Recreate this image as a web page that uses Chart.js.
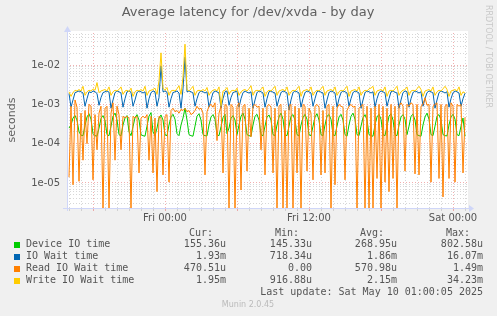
<!DOCTYPE html>
<html>
<head>
<meta charset="utf-8">
<title>Average latency for /dev/xvda - by day</title>
<script src="https://cdn.jsdelivr.net/npm/chart.js@4.4.1/dist/chart.umd.min.js"></script>
<style>
  html, body { margin: 0; padding: 0; background: #f0f0f0; }
  #wrap { width: 497px; height: 316px; }
</style>
</head>
<body>
<div id="wrap"><canvas id="chart" width="497" height="316"></canvas></div>
<script>
// 10 minute samples, hours relative to Fri 00:00
const startHour = -8;
const stepHours = 1 / 6;

// latencies, in milliseconds
const deviceIO = [
  0.25, 0.30, 0.45, 0.52, 0.40, 0.20, 0.165, 0.16, 0.29, 0.48,
  0.58, 0.42, 0.18, 0.16, 0.155, 0.25, 0.44, 0.52, 0.39, 0.17,
  0.16, 0.28, 0.50, 0.60, 0.41, 0.17, 0.158, 0.30, 0.45, 0.52,
  0.20, 0.16, 0.27, 0.46, 0.55, 0.40, 0.17, 0.16, 0.155, 0.28,
  0.50, 0.62, 0.20, 0.16, 0.25, 0.45, 0.54, 0.40, 0.17, 0.16,
  0.30, 0.48, 0.56, 0.42, 0.18, 0.16, 0.30, 0.45, 0.80, 0.40,
  0.17, 0.16, 0.155, 0.28, 0.50, 0.58, 0.40, 0.17, 0.16, 0.158,
  0.30, 0.48, 0.55, 0.42, 0.17, 0.16, 0.27, 0.46, 0.56, 0.18,
  0.25, 0.44, 0.52, 0.40, 0.17, 0.30, 0.50, 0.60, 0.42, 0.17,
  0.16, 0.155, 0.30, 0.50, 0.56, 0.40, 0.17, 0.16, 0.28, 0.48,
  0.54, 0.40, 0.17, 0.16, 0.30, 0.48, 0.60, 0.42, 0.17, 0.16,
  0.28, 0.50, 0.55, 0.40, 0.17, 0.158, 0.30, 0.46, 0.56, 0.42,
  0.17, 0.16, 0.28, 0.48, 0.58, 0.40, 0.17, 0.16, 0.30, 0.50,
  0.55, 0.42, 0.17, 0.16, 0.28, 0.48, 0.56, 0.40, 0.17, 0.155,
  0.30, 0.50, 0.60, 0.42, 0.17, 0.16, 0.28, 0.46, 0.55, 0.40,
  0.17, 0.16, 0.155, 0.30, 0.48, 0.56, 0.42, 0.17, 0.16, 0.28,
  0.50, 0.58, 0.40, 0.17, 0.16, 0.30, 0.48, 0.55, 0.42, 0.17,
  0.28, 0.50, 0.56, 0.40, 0.17, 0.16, 0.155, 0.30, 0.48, 0.60,
  0.42, 0.17, 0.16, 0.28, 0.50, 0.55, 0.40, 0.17, 0.16, 0.158,
  0.30, 0.48, 0.56, 0.42, 0.17, 0.16, 0.28, 0.45, 0.155
];

const ioWait = [
  1.9, 0.85, 1.3, 2.0, 2.1, 2.2, 2.1, 1.95, 0.9, 1.4,
  2.1, 2.0, 2.2, 2.1, 1.9, 0.95, 1.5, 2.0, 2.1, 2.2,
  2.05, 0.8, 1.3, 2.0, 2.2, 2.1, 1.95, 0.85, 1.4, 2.1,
  2.2, 2.05, 0.9, 1.3, 2.0, 2.2, 2.1, 1.95, 2.1, 0.8,
  1.4, 2.0, 2.2, 2.1, 0.9, 1.5, 9.5, 2.1, 2.2, 2.05,
  0.85, 1.4, 2.0, 2.1, 2.2, 1.95, 0.8, 2.5, 16.07, 2.1,
  2.2, 2.1, 1.95, 0.9, 1.4, 2.0, 2.2, 2.1, 1.95, 2.1,
  0.85, 1.3, 2.0, 2.2, 2.1, 1.95, 0.8, 1.4, 2.1, 2.2,
  0.95, 1.5, 2.0, 2.1, 2.2, 0.85, 1.4, 2.0, 2.2, 2.05,
  1.95, 2.1, 0.8, 1.3, 2.0, 2.2, 2.1, 1.95, 0.85, 1.4,
  2.1, 2.2, 2.05, 1.95, 0.9, 1.4, 2.0, 2.2, 2.1, 1.95,
  0.72, 1.3, 2.0, 2.2, 2.1, 1.95, 0.85, 1.4, 2.0, 2.2,
  2.1, 1.95, 0.9, 1.4, 2.1, 2.2, 2.05, 1.95, 0.8, 1.3,
  2.0, 2.2, 2.1, 1.95, 0.85, 1.4, 2.0, 2.2, 2.1, 1.95,
  0.9, 1.4, 2.0, 2.2, 2.1, 1.95, 0.8, 1.3, 2.0, 2.2,
  2.1, 1.95, 2.1, 0.85, 1.4, 2.0, 2.2, 2.1, 1.95, 0.9,
  1.4, 2.1, 2.2, 2.05, 1.95, 0.8, 1.3, 2.0, 2.2, 2.1,
  0.85, 1.4, 2.0, 2.2, 2.1, 1.95, 2.1, 0.9, 1.4, 2.0,
  2.2, 2.1, 1.95, 0.8, 1.3, 2.0, 2.2, 2.1, 1.95, 2.1,
  0.85, 1.4, 2.0, 2.2, 2.1, 1.95, 0.9, 1.4, 1.93
];

const readWait = [
  0.014, 0.9, 0.009, 1.3, 0.85, 0.011, 0.6, 0.038, 0.7, 0.1,
  1.0, 0.9, 0.012, 0.55, 0.07, 0.6, 0.9, 0, 0.8, 0.9,
  0, 0.6, 1.1, 0.038, 0.9, 0.55, 0.07, 0.5, 0.45, 0.5,
  0.45, 0, 0.5, 0.45, 0.5, 0.018, 0.45, 0.5, 0.45, 0.55,
  0.038, 0.5, 0.018, 0.45, 0.006, 0.5, 0.45, 0.016, 0.5, 0.55,
  0.0105, 0.7, 0.8, 0.65, 0.7, 0.6, 0.75, 0.7, 0.8, 0.65,
  0.7, 0.55, 0.6, 0.7, 0.9, 0.75, 0.8, 0.6, 0.016, 0.65,
  0.9, 1.0, 0.85, 1.1, 0.12, 0.6, 0.9, 0.018, 1.0, 0.9,
  0, 1.0, 0.85, 0, 0.9, 1.1, 0.0066, 0.9, 1.0, 0.02,
  0.8, 0.15, 0.9, 1.0, 0.85, 0.9, 0.07, 0.8, 0.016, 0.9,
  1.0, 0.85, 0.018, 0.8, 0, 0.9, 1.0, 0, 0.7, 0,
  0.9, 1.0, 0, 0.9, 0.018, 0.8, 0, 1.0, 0.9, 0.02,
  0.8, 0.6, 0.012, 0.9, 1.0, 0.85, 0.016, 0.7, 0.018, 0.9,
  1.0, 0, 0.9, 0.009, 0.8, 1.0, 0.9, 0.85, 0.012, 0.7,
  0.9, 1.0, 0.85, 0.9, 0, 0.8, 0.9, 1.0, 0, 0.9,
  0, 0.8, 0, 0.9, 0.013, 1.0, 0, 0.9, 0.0105, 0.8,
  0.006, 1.0, 0.013, 0.9, 0, 0.9, 1.1, 0.9, 0.02, 1.0,
  0.9, 1.1, 1.0, 0.017, 1.0, 0.016, 0.9, 1.0, 1.49, 0.95,
  1.0, 0.0105, 0.9, 1.0, 1.1, 0.013, 1.0, 0.0044, 0.9, 1.0,
  0.013, 1.1, 0.9, 0.0105, 1.0, 0.9, 1.0, 0.018, 0.47
];

const writeWait = [
  2.1, 1.6, 2.0, 2.3, 2.2, 2.4, 2.2, 2.9, 1.7, 2.1,
  2.3, 2.2, 2.5, 2.3, 3.6, 2.0, 2.2, 2.3, 2.4, 2.2,
  2.8, 1.7, 2.1, 2.3, 2.2, 2.4, 2.8, 1.8, 2.2, 2.3,
  2.1, 2.6, 1.6, 2.1, 2.3, 2.2, 2.4, 2.2, 2.9, 1.7,
  2.2, 2.3, 2.4, 2.6, 1.8, 4.0, 20.6, 2.6, 2.3, 2.7,
  1.7, 2.2, 2.3, 2.2, 2.5, 3.0, 1.8, 5.0, 34.23, 2.4,
  2.2, 2.5, 2.9, 1.7, 2.2, 2.3, 2.2, 2.4, 2.2, 2.7,
  1.7, 2.1, 2.3, 2.4, 2.2, 2.8, 0.92, 2.2, 2.3, 2.7,
  1.8, 2.2, 2.3, 2.2, 2.6, 1.7, 2.1, 2.3, 2.4, 2.2,
  2.5, 3.0, 1.7, 2.2, 2.3, 2.2, 2.4, 2.8, 1.6, 2.1,
  2.3, 2.2, 2.5, 2.9, 1.7, 2.2, 2.3, 2.4, 2.2, 2.8,
  1.7, 2.1, 2.3, 2.2, 2.5, 2.9, 1.6, 2.2, 2.3, 2.4,
  2.2, 2.8, 1.7, 2.1, 2.3, 2.2, 2.5, 2.9, 1.7, 2.2,
  2.3, 2.4, 2.2, 2.8, 1.7, 2.1, 2.3, 2.2, 2.5, 2.9,
  1.6, 2.2, 2.3, 2.4, 2.2, 2.8, 1.7, 2.1, 2.3, 2.2,
  2.5, 2.6, 2.9, 1.7, 2.2, 2.3, 2.4, 2.2, 2.8, 1.6,
  2.2, 2.3, 2.2, 2.5, 2.9, 1.7, 2.1, 2.3, 2.4, 2.8,
  1.7, 2.2, 2.3, 2.2, 2.5, 2.9, 2.4, 1.6, 2.2, 2.3,
  2.4, 2.2, 2.8, 1.7, 2.1, 2.3, 2.2, 2.5, 2.9, 2.4,
  1.6, 2.2, 2.3, 2.4, 2.2, 2.8, 1.7, 2.1, 1.95
];

// axes
const yMin = 2.3e-6;
const yMax = 0.066;
const yTickValues = [1e-5, 1e-4, 1e-3, 1e-2];
const yTickLabels = ['1e-05', '1e-04', '1e-03', '1e-02'];
const xMin = -8.1667;
const xMax = 25.25;
const xTickHours = [0, 12, 24];
const xTickLabels = ['Fri 00:00', 'Fri 12:00', 'Sat 00:00'];

// legend table
const seriesNames = ['Device IO time', 'IO Wait time', 'Read IO Wait time', 'Write IO Wait time'];
const seriesColors = ['#00cc00', '#0066b3', '#ff8000', '#ffcc00'];
const colHeads = ['Cur:', 'Min:', 'Avg:', 'Max:'];
const curText = ['155.36u', '1.93m', '470.51u', '1.95m'];
const minText = ['145.33u', '718.34u', '0.00', '916.88u'];
const avgText = ['268.95u', '1.86m', '570.98u', '2.15m'];
const maxText = ['802.58u', '16.07m', '1.49m', '34.23m'];
const lastUpdate = 'Last update: Sat May 10 01:00:05 2025';

const minorGrid = 'rgba(175, 175, 175, 0.5)';
const majorGrid = 'rgba(230, 110, 110, 0.55)';
const axisColor = '#cfd6f8';
const textColor = '#555555';

const times = deviceIO.map((_, i) => startHour + i * stepHours);
// rrdtool pins zero to the floor of a log axis
const toPoints = vals => vals.map((v, i) => ({ x: times[i], y: v > 0 ? v / 1000 : yMin }));

const isDecade = v => Math.abs(Math.log10(v) - Math.round(Math.log10(v))) < 1e-6;

const muninFrame = {
  id: 'muninFrame',
  beforeDraw(chart) {
    const { ctx, chartArea: a } = chart;
    ctx.save();
    ctx.fillStyle = '#f0f0f0';
    ctx.fillRect(0, 0, chart.width, chart.height);
    ctx.fillStyle = '#ffffff';
    ctx.fillRect(a.left, a.top - 2, a.right - a.left, a.bottom - a.top + 2);
    ctx.restore();
  },
  afterDraw(chart) {
    const { ctx, chartArea: a } = chart;
    ctx.save();

    // axes + arrows
    ctx.strokeStyle = axisColor;
    ctx.fillStyle = axisColor;
    ctx.lineWidth = 1;
    ctx.beginPath();
    ctx.moveTo(a.left - 4, a.bottom + 0.5);
    ctx.lineTo(a.right + 2, a.bottom + 0.5);
    ctx.moveTo(a.left + 0.5, a.bottom + 3);
    ctx.lineTo(a.left + 0.5, a.top - 2);
    ctx.stroke();
    ctx.beginPath();
    ctx.moveTo(a.right + 1, a.bottom - 3);
    ctx.lineTo(a.right + 6, a.bottom + 0.5);
    ctx.lineTo(a.right + 1, a.bottom + 4);
    ctx.closePath();
    ctx.fill();
    ctx.beginPath();
    ctx.moveTo(a.left - 3, a.top - 1);
    ctx.lineTo(a.left + 0.5, a.top - 7);
    ctx.lineTo(a.left + 4, a.top - 1);
    ctx.closePath();
    ctx.fill();

    // title
    ctx.fillStyle = '#606060';
    ctx.textBaseline = 'middle';
    ctx.textAlign = 'center';
    ctx.font = '13px "DejaVu Sans", sans-serif';
    ctx.fillText('Average latency for /dev/xvda - by day', 248, 13);

    // vertical unit label
    ctx.save();
    ctx.translate(12, 120);
    ctx.rotate(-Math.PI / 2);
    ctx.font = '11px "DejaVu Sans", sans-serif';
    ctx.fillText('seconds', 0, 0);
    ctx.restore();

    // rrdtool credit on the right
    ctx.save();
    ctx.translate(488, 5);
    ctx.rotate(Math.PI / 2);
    ctx.textAlign = 'left';
    ctx.fillStyle = '#c8c8c8';
    ctx.font = '8px "DejaVu Sans", sans-serif';
    ctx.fillText('RRDTOOL / TOBI OETIKER', 0, 0);
    ctx.restore();

    // legend table
    ctx.fillStyle = textColor;
    ctx.font = '10px "DejaVu Sans Mono", monospace';
    ctx.textAlign = 'right';
    const headRight = [213, 299, 384, 470];
    const valueRight = [226, 312, 397, 483];
    colHeads.forEach((h, k) => ctx.fillText(h, headRight[k], 233));
    const cols = [curText, minText, avgText, maxText];
    seriesNames.forEach((name, r) => {
      const y = 244.5 + r * 12;
      ctx.fillStyle = seriesColors[r];
      ctx.fillRect(14, Math.round(y) - 3, 6, 6);
      ctx.fillStyle = textColor;
      ctx.textAlign = 'left';
      ctx.fillText(name, 26, y);
      ctx.textAlign = 'right';
      cols.forEach((col, k) => ctx.fillText(col[r], valueRight[k], y));
    });
    ctx.fillText(lastUpdate, 483, 292.5);

    ctx.textAlign = 'center';
    ctx.fillStyle = '#bbbbbb';
    ctx.font = '8px "DejaVu Sans", sans-serif';
    ctx.fillText('Munin 2.0.45', 248, 305);
    ctx.restore();
  }
};

const lineStyle = color => ({
  borderColor: color,
  backgroundColor: color,
  borderWidth: 1,
  pointRadius: 0,
  tension: 0,
  fill: false
});

new Chart(document.getElementById('chart'), {
  type: 'line',
  data: {
    datasets: [
      { label: seriesNames[0], data: toPoints(deviceIO), order: 4, ...lineStyle(seriesColors[0]) },
      { label: seriesNames[1], data: toPoints(ioWait), order: 3, ...lineStyle(seriesColors[1]) },
      { label: seriesNames[2], data: toPoints(readWait), order: 2, ...lineStyle(seriesColors[2]) },
      { label: seriesNames[3], data: toPoints(writeWait), order: 1, ...lineStyle(seriesColors[3]) }
    ]
  },
  options: {
    responsive: false,
    animation: false,
    devicePixelRatio: 1,
    layout: { padding: { top: 33, right: 29, left: 0, bottom: 0 } },
    plugins: {
      legend: { display: false },
      tooltip: { enabled: false }
    },
    scales: {
      x: {
        type: 'linear',
        min: xMin,
        max: xMax,
        afterBuildTicks(scale) {
          const ticks = [];
          for (let h = Math.ceil(xMin); h <= Math.floor(xMax); h++) ticks.push({ value: h });
          scale.ticks = ticks;
        },
        afterFit(scale) { scale.height = 108; },
        grid: {
          color: ctx => (ctx.tick && ctx.tick.value % 6 === 0 ? majorGrid : minorGrid),
          tickColor: ctx => (ctx.tick && ctx.tick.value % 6 === 0 ? majorGrid : minorGrid),
          tickLength: 3,
          tickBorderDash: []
        },
        border: { display: false, dash: [1, 2] },
        ticks: {
          autoSkip: false,
          maxRotation: 0,
          padding: 1,
          color: textColor,
          font: { family: '"DejaVu Sans", sans-serif', size: 10 },
          callback(v) {
            const k = xTickHours.indexOf(v);
            return k >= 0 ? xTickLabels[k] : '';
          }
        }
      },
      y: {
        type: 'logarithmic',
        min: yMin,
        max: yMax,
        afterBuildTicks(scale) {
          const ticks = [];
          for (let e = -6; e <= -2; e++) {
            for (let m = 1; m <= 9; m++) {
              const v = m * Math.pow(10, e);
              if (v >= yMin && v <= yMax) ticks.push({ value: v });
            }
          }
          scale.ticks = ticks;
        },
        afterFit(scale) { scale.width = 67; },
        grid: {
          color: ctx => (ctx.tick && isDecade(ctx.tick.value) ? majorGrid : minorGrid),
          drawTicks: false
        },
        border: { display: false, dash: [1, 2] },
        ticks: {
          autoSkip: false,
          padding: 7,
          color: textColor,
          font: { family: '"DejaVu Sans", sans-serif', size: 10 },
          callback(v) {
            const k = yTickValues.findIndex(t => Math.abs(v / t - 1) < 1e-6);
            return k >= 0 ? yTickLabels[k] : '';
          }
        }
      }
    }
  },
  plugins: [muninFrame]
});
</script>
</body>
</html>
